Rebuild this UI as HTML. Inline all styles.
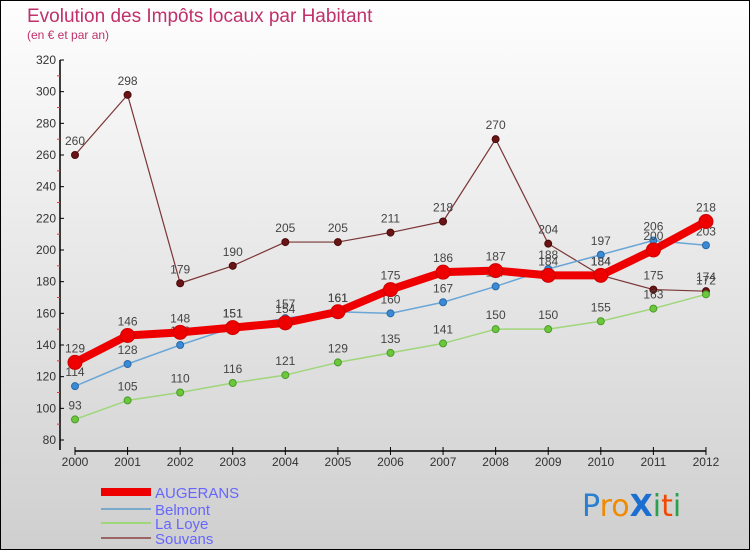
<!DOCTYPE html>
<html><head><meta charset="utf-8">
<style>
html,body{margin:0;padding:0}
body{width:750px;height:550px;overflow:hidden;font-family:"Liberation Sans",sans-serif}
#wrap{position:absolute;left:0;top:0;width:748px;height:548px;border:1px solid #000;background:linear-gradient(#fefefe,#cfcfcf)}
</style></head><body>
<div id="wrap">
<svg id="chart" width="750" height="550" style="position:absolute;left:-1px;top:-1px">
<text x="27" y="22" font-size="19" fill="#c0306a">Evolution des Impôts locaux par Habitant</text>
<text x="27" y="39" font-size="12" fill="#c0306a">(en € et par an)</text>
<g id="axes"></g>
<g id="series"></g>
<g id="legend">
<rect x="101" y="488" width="50" height="8" fill="#e00"/>
<text x="155" y="498" font-size="15" fill="#6666ff">AUGERANS</text>
<rect x="101" y="508" width="50" height="2" fill="#7aa9cc"/>
<text x="155" y="515" font-size="15" fill="#6666ff">Belmont</text>
<rect x="101" y="522" width="50" height="2" fill="#9fd67a"/>
<text x="155" y="529" font-size="15" fill="#6666ff">La Loye</text>
<rect x="101" y="537" width="50" height="2" fill="#9a6565"/>
<text x="155" y="544" font-size="15" fill="#6666ff">Souvans</text>
</g>
<g font-size="30" font-family="'DejaVu Sans',sans-serif">
<text x="582" y="516"><tspan fill="#2a7fd0">P</tspan><tspan fill="#f08a00">r</tspan><tspan fill="#f08a00">o</tspan><tspan fill="#1c6fd0" font-weight="bold">X</tspan><tspan fill="#2aa04a">i</tspan><tspan fill="#f04a00">t</tspan><tspan fill="#2aa04a">i</tspan></text>
</g>
</svg>
</div>
<script>
const years=[2000,2001,2002,2003,2004,2005,2006,2007,2008,2009,2010,2011,2012];
const augerans=[129,146,148,151,154,161,175,186,187,184,184,200,218];
const belmont=[114,128,140,151,157,161,160,167,177,188,197,206,203];
const laLoye=[93,105,110,116,121,129,135,141,150,150,155,163,172];
const souvans=[260,298,179,190,205,205,211,218,270,204,184,175,174];
const yTicks=[80,100,120,140,160,180,200,220,240,260,280,300,320];
const NS="http://www.w3.org/2000/svg";
const x0=75,xStep=52.58,yMin=80,yMax=320,yTop=60,yBot=440;
function xs(i){return x0+i*xStep;}
function ys(v){return yBot-(v-yMin)/(yMax-yMin)*(yBot-yTop);}
function el(t,a,p){const e=document.createElementNS(NS,t);for(const k in a)e.setAttribute(k,a[k]);p.appendChild(e);return e;}
const axes=document.getElementById('axes');
const ya=el('line',{x1:60,y1:yTop,x2:60,y2:yBot+10,stroke:'#000','stroke-width':1.5},axes);


yTicks.forEach((v,i)=>{
  el('line',{x1:60,y1:ys(v),x2:64,y2:ys(v),stroke:'#000'},axes);
  const t=el('text',{x:56,y:ys(v)+4,'font-size':12,'text-anchor':'end',fill:'#333'},axes);
  t.textContent=v;
  
  
  if(i<yTicks.length-1){el('line',{x1:57,y1:ys(v+10),x2:60,y2:ys(v+10),stroke:'#e33'},axes);}
});
const xa=el('line',{x1:x0,y1:451,x2:xs(12),y2:451,stroke:'#000','stroke-width':1.5},axes);


years.forEach((y,i)=>{
  el('line',{x1:xs(i),y1:447,x2:xs(i),y2:455,stroke:'#000'},axes);
  const t=el('text',{x:xs(i),y:466,'font-size':12,'text-anchor':'middle',fill:'#333'},axes);
  t.textContent=y;
  
  
});
const ser=document.getElementById('series');
function draw(data,name,color,dot,w,r,stroke){
  const g=el('g',{},ser);
  
  
  const pl=el('polyline',{points:data.map((v,i)=>xs(i)+','+ys(v)).join(' '),fill:'none',stroke:color,'stroke-width':w,'stroke-linejoin':'round'},g);
  
  
  data.forEach((v,i)=>{
    const c=el('circle',{cx:xs(i),cy:ys(v),r:r,fill:dot,stroke:stroke,'stroke-width':1},g);
    
    
    const t=el('text',{x:xs(i),y:ys(v)-10,'font-size':12,'text-anchor':'middle',fill:'#444'},g);
    t.textContent=v;
    
    
  });
}
draw(souvans,'souvans','#7a3535','#6a1515',1.2,3.5,'#4a0a0a');
draw(laLoye,'la-loye','#9fd67a','#6cc83a',1.5,3.5,'#4a9a2a');
draw(belmont,'belmont','#6aa6d6','#3a8ad6',1.5,3.5,'#2a6aa6');
draw(augerans,'augerans','#ee0000','#ee0000',8,7,'#cc0000');
</script>
</body></html>
